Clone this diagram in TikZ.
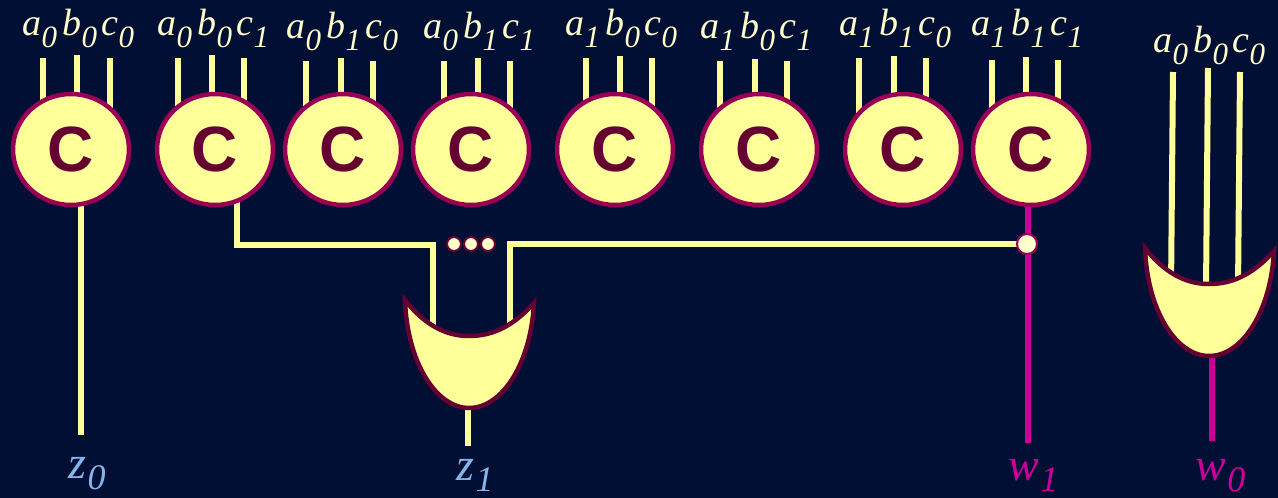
\documentclass[tikz,border=0pt]{standalone}
\usepackage{fontspec}
\setmainfont{Liberation Serif}
\newfontfamily\gatefont{Liberation Sans}
\usetikzlibrary{shapes.geometric,backgrounds}
\definecolor{bgnavy}{HTML}{000F33}
\definecolor{paleyellow}{HTML}{FFFF99}
\definecolor{paledot}{HTML}{FFFFCC}
\definecolor{rimred}{HTML}{990055}
\definecolor{darkplum}{HTML}{660033}
\definecolor{wiremagenta}{HTML}{CC0099}
\definecolor{skylabel}{HTML}{85B5EA}
\newcommand{\sublab}[2]{{\fontsize{38}{38}\selectfont\itshape #1}\kern0.5pt\raisebox{-12pt}{\fontsize{31}{31}\selectfont\itshape #2}}
\newcommand{\biglab}[2]{{\fontsize{46}{46}\selectfont\itshape #1}\kern1.5pt\raisebox{-11pt}{\fontsize{36}{36}\selectfont\itshape #2}}
\tikzset{
  x=1pt,y=-1pt,
  gatecircle/.style={ellipse,draw=rimred,fill=paleyellow,line width=4.5pt,minimum width=116pt,minimum height=111pt,inner sep=0pt,
     text=darkplum,font={\gatefont\bfseries\fontsize{64}{64}\selectfont}},
  orgate/.style={draw=darkplum,fill=paleyellow,line width=4.5pt,miter limit=10},
  wire/.style={draw=paleyellow,line width=6pt},
  magwire/.style={draw=wiremagenta,line width=6pt},
  inlabel/.style={anchor=base west,inner sep=0pt,text=paledot},
  outz/.style={anchor=base west,inner sep=0pt,text=skylabel},
  outw/.style={anchor=base west,inner sep=0pt,text=wiremagenta},
  dotnode/.style={circle,draw=darkplum,fill=paledot,line width=2pt,minimum size=14pt,inner sep=0pt},
  joinnode/.style={circle,draw=rimred,fill=paledot,line width=2pt,minimum size=20pt,inner sep=0pt},
}
\begin{document}
\begin{tikzpicture}
\useasboundingbox (0,0) rectangle (1278,498);
\fill[bgnavy] (0,0) rectangle (1278,498);
% named points of the wires
\coordinate (g1out) at (81,200);
\coordinate (g2out) at (237,200);
\coordinate (g8out) at (1028,200);
\coordinate (orAbot) at (468,404);
\coordinate (orAl) at (433,326);
\coordinate (orAr) at (510,326);
\coordinate (corL) at (237,245);
\coordinate (corLb) at (433,245);
\coordinate (corRb) at (510,244);
\coordinate (jc) at (1027,244);
\coordinate (z0end) at (81,435);
\coordinate (z1end) at (468,446);
\coordinate (w1end) at (1028,443);
\coordinate (w0end) at (1212,441);
\coordinate (orBbot) at (1212,352);
\coordinate (orBa) at (1171,290);
\coordinate (orBb) at (1206,290);
\coordinate (orBc) at (1238,290);
\coordinate (topa) at (1173,72);
\coordinate (topb) at (1208,68);
\coordinate (topc) at (1240,72);
% wires, behind the gates
\draw[wire] (g1out) -- (z0end);
\draw[wire,line join=miter] (g2out) -- (corL) -- (corLb) -- (orAl);
\draw[wire,line join=miter] (jc) -- (corRb) -- (orAr);
\draw[magwire] (g8out) -- (w1end);
\draw[wire] (orAbot) -- (z1end);
\draw[magwire] (orBbot) -- (w0end);
\draw[wire] (topa) -- (orBa);
\draw[wire] (topb) -- (orBb);
\draw[wire] (topc) -- (orBc);
% gates with inputs and labels
\foreach \n/\cx/\xa/\xb/\xc/\ya/\yb/\lx/\ly/\sa/\sb/\sc in {
  1/71/43/77/110/58/55/22/35/0/0/0,
  2/215/178/212/244/58/55/157/35/0/0/1,
  3/343/306/341/373/61/58/286/38/0/1/0,
  4/471/444/478/510/61/58/423/38/0/1/1,
  5/615/586/620/652/58/56/565/35/1/0/0,
  6/759/720/755/787/61/59/700/38/1/0/1,
  7/903/859/894/926/58/56/839/35/1/1/0,
  8/1031/992/1026/1058/60/57/971/35/1/1/1}{
  \coordinate (pa\n) at (\xa,\ya);
  \coordinate (pb\n) at (\xb,\yb);
  \coordinate (pc\n) at (\xc,\ya);
  \coordinate (qa\n) at (\xa,130);
  \coordinate (qb\n) at (\xb,130);
  \coordinate (qc\n) at (\xc,130);
  \draw[wire] (pa\n) -- (qa\n);
  \draw[wire] (pb\n) -- (qb\n);
  \draw[wire] (pc\n) -- (qc\n);
  \node[gatecircle] (g\n) at (\cx,149.5) {C};
  \node[inlabel] (la\n) at (\lx,\ly) {\sublab{a}{\sa}};
  \node[inlabel] (lb\n) at ({\lx+40},\ly) {\sublab{b}{\sb}};
  \node[inlabel] (lc\n) at ({\lx+79},\ly) {\sublab{c}{\sc}};
}
% or gates
\path[orgate] (405,300) .. controls (407,362) and (436,408) .. (469,408)
  .. controls (503,408) and (531,362) .. (534,303)
  .. controls (515,324) and (495,336) .. (469,336)
  .. controls (444,336) and (423,323) .. cycle;
\path[orgate] (1145,248) .. controls (1147,310) and (1176,356) .. (1209,356)
  .. controls (1243,356) and (1271,310) .. (1274,251)
  .. controls (1255,272) and (1235,284) .. (1209,284)
  .. controls (1184,284) and (1163,271) .. cycle;
% nodes on wires
\node[joinnode] (jn) at (jc) {};
\node[dotnode] (d1) at (454,244) {};
\node[dotnode] (d2) at (471,244) {};
\node[dotnode] (d3) at (488,244) {};
% group on the right
\node[inlabel] (la9) at (1153,52) {\sublab{a}{0}};
\node[inlabel] (lb9) at (1193,52) {\sublab{b}{0}};
\node[inlabel] (lc9) at (1232,52) {\sublab{c}{0}};
% output labels
\node[outz] (z0) at (68,478) {\biglab{z}{0}};
\node[outz] (z1) at (456,480) {\biglab{z}{1}};
\node[outw] (w1) at (1008,480) {\biglab{w}{1}};
\node[outw] (w0) at (1195,480) {\biglab{w}{0}};
\end{tikzpicture}
\end{document}
